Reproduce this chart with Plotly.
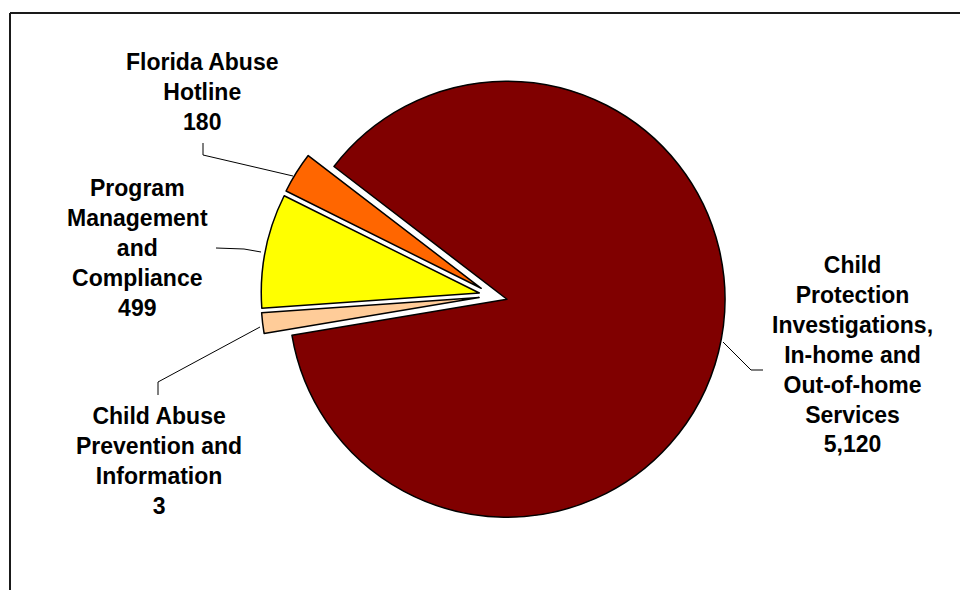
import plotly.graph_objects as go

# ---- data ----
categories = [
    "Child Protection Investigations, In-home and Out-of-home Services",
    "Child Abuse Prevention and Information",
    "Program Management and Compliance",
    "Florida Abuse Hotline",
]
# values printed on the chart labels
label_values = [5120, 3, 499, 180]
# slice sizes as drawn in the picture (the small prevention slice is drawn at ~1.5%)
slice_sizes = [5120, 90, 499, 180]
label_lines = [
    ["Child", "Protection", "Investigations,", "In-home and", "Out-of-home", "Services"],
    ["Child Abuse", "Prevention and", "Information"],
    ["Program", "Management", "and", "Compliance"],
    ["Florida Abuse", "Hotline"],
]
colors = ["#800000", "#FFCC99", "#FFFF00", "#FF6600"]

W, H = 960, 590


def px(x):
    return x / W


def py(y):
    return 1 - y / H


# pie box (window pixels): centre and half size
PCX, PCY, HALF = 493.2, 295.8, 232.2

fig = go.Figure(
    go.Pie(
        labels=categories,
        values=slice_sizes,
        sort=False,
        direction="clockwise",
        rotation=-52.5,
        pull=[0.065, 0.065, 0.065, 0.065],
        marker=dict(colors=colors, line=dict(color="#000000", width=1.5)),
        textinfo="none",
        hoverinfo="label+value",
        showlegend=False,
        domain=dict(x=[px(PCX - HALF), px(PCX + HALF)],
                    y=[py(PCY + HALF), py(PCY - HALF)]),
    )
)

# label positions (pixel centers) and leader lines
label_pos = [(852, 355), (159, 461), (137, 248), (202, 92)]
leaders = [
    [(723, 342), (751, 370), (763, 370)],
    [(158, 395), (158, 382), (260, 327)],
    [(216, 248), (244, 249), (261, 252)],
    [(203, 143), (203, 155), (293, 176)],
]

annotations = []
for lines, val, (cx, cy) in zip(label_lines, label_values, label_pos):
    txt = "<br>".join(lines + [f"{val:,}"])
    annotations.append(
        dict(
            text=f"<b>{txt}</b>",
            x=px(cx), y=py(cy), xref="paper", yref="paper",
            xanchor="center", yanchor="middle", align="center",
            showarrow=False,
            font=dict(family="Liberation Sans, Arial, sans-serif", size=23, color="#000000"),
        )
    )

shapes = []
for pts in leaders:
    for (x0, y0), (x1, y1) in zip(pts[:-1], pts[1:]):
        shapes.append(
            dict(type="line", xref="paper", yref="paper",
                 x0=px(x0), y0=py(y0), x1=px(x1), y1=py(y1),
                 line=dict(color="#000000", width=1))
        )

# chart frame (only left and top edges are visible in the reference)
shapes.append(dict(type="line", xref="paper", yref="paper",
                   x0=px(10), y0=py(13), x1=px(960), y1=py(13),
                   line=dict(color="#1a1a1a", width=2)))
shapes.append(dict(type="line", xref="paper", yref="paper",
                   x0=px(10), y0=py(13), x1=px(10), y1=py(590),
                   line=dict(color="#1a1a1a", width=2)))

fig.update_layout(
    width=W, height=H,
    margin=dict(l=0, r=0, t=0, b=0),
    paper_bgcolor="#FFFFFF",
    plot_bgcolor="#FFFFFF",
    annotations=annotations,
    shapes=shapes,
)

fig.write_html(
    "out.html",
    config={"displayModeBar": False},
    post_script="document.body.style.margin='0';document.body.style.overflow='hidden';",
)
